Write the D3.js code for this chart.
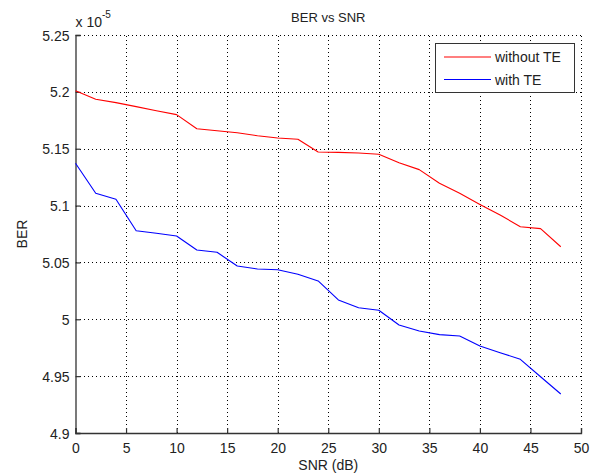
<!DOCTYPE html>
<html>
<head>
<meta charset="utf-8">
<script src="https://cdn.jsdelivr.net/npm/d3@7"></script>
<style>
  html, body { margin: 0; padding: 0; background: #fff; }
  svg { display: block; font-family: "Liberation Sans", Arial, sans-serif; }
</style>
</head>
<body>
<svg id="chart" width="597" height="475"></svg>
<script>
// SNR sweep (dB)
const snr = [0, 2, 4, 6, 8, 10, 12, 14, 16, 18, 20, 22, 24, 26, 28, 30, 32, 34, 36, 38, 40, 42, 44, 46, 48];
// BER values in units of 1e-5
const berWithoutTE = [5.201, 5.1935, 5.1905, 5.187, 5.1834, 5.180, 5.1676, 5.1658, 5.164, 5.1614, 5.1594, 5.1583,
  5.1471, 5.1468, 5.1462, 5.1451, 5.1377, 5.1316, 5.1196, 5.1108, 5.101, 5.0917, 5.0814, 5.0797, 5.0638];
const berWithTE = [5.1372, 5.1108, 5.1055, 5.0779, 5.0756, 5.0732, 5.0609, 5.0589, 5.0469, 5.0442, 5.0436, 5.0396,
  5.0337, 5.017, 5.0102, 5.0079, 4.995, 4.9897, 4.9865, 4.9853, 4.9765, 4.9706, 4.9648, 4.9495, 4.9343];
const xTicks = [0, 5, 10, 15, 20, 25, 30, 35, 40, 45, 50];
const yTicks = [4.9, 4.95, 5, 5.05, 5.1, 5.15, 5.2, 5.25];
const yTickLabels = ["4.9", "4.95", "5", "5.05", "5.1", "5.15", "5.2", "5.25"];
const seriesNames = ["without TE", "with TE"];
const seriesColors = ["#ff0000", "#0000ff"];

const svg = d3.select("#chart");
const plotLeft = 75.5, plotRight = 581, plotTop = 35, plotBottom = 433;

const x = d3.scaleLinear().domain([0, 50]).range([plotLeft, plotRight]);
const y = d3.scaleLinear().domain([4.9, 5.25]).range([plotBottom, plotTop]);

// dotted grid
const grid = svg.append("g").attr("stroke", "#000").attr("stroke-width", 1)
  .attr("stroke-dasharray", "1,3").attr("shape-rendering", "crispEdges");
grid.selectAll("line.gx").data(xTicks.slice(1)).join("line")
  .attr("x1", d => Math.round(x(d)) + 0.5).attr("x2", d => Math.round(x(d)) + 0.5)
  .attr("y1", plotBottom).attr("y2", plotTop);
grid.selectAll("line.gy").data(yTicks.slice(1)).join("line")
  .attr("y1", d => Math.round(y(d)) + 0.5).attr("y2", d => Math.round(y(d)) + 0.5)
  .attr("x1", plotLeft).attr("x2", plotRight);

// axes with inward ticks
const xAxis = d3.axisBottom(x).tickValues(xTicks).tickSize(-5).tickPadding(10).tickFormat(d3.format("d"));
const yAxis = d3.axisLeft(y).tickValues(yTicks).tickSize(-5).tickPadding(6)
  .tickFormat((d, i) => yTickLabels[i]);

const gx = svg.append("g").attr("transform", `translate(0,${plotBottom})`).call(xAxis);
const gy = svg.append("g").attr("transform", `translate(${plotLeft},0)`).call(yAxis);
[gx, gy].forEach(g => {
  g.select(".domain").attr("stroke", "#333").attr("stroke-width", 1.3);
  g.selectAll(".tick line").attr("stroke", "#333").attr("stroke-width", 1.2);
  g.selectAll(".tick text").attr("fill", "#222").attr("font-size", 14)
    .attr("font-family", "'Liberation Sans', Arial, sans-serif");
});
gy.selectAll(".tick text").attr("dy", "0.36em");

// series lines
const line = d3.line().x((d, i) => x(snr[i])).y(d => y(d));
[berWithoutTE, berWithTE].forEach((vals, k) => {
  svg.append("path").datum(vals).attr("d", line)
    .attr("fill", "none").attr("stroke", seriesColors[k]).attr("stroke-width", 1.1)
    .attr("stroke-linejoin", "round");
});

// exponent multiplier
const mult = svg.append("text").attr("x", plotLeft).attr("y", 27).attr("font-size", 14).attr("fill", "#222");
mult.append("tspan").text("x 10");
mult.append("tspan").attr("dy", -9).attr("font-size", 10).text("-5");

// title and axis labels
svg.append("text").attr("x", (plotLeft + plotRight) / 2).attr("y", 22).attr("text-anchor", "middle")
  .attr("font-size", 13).attr("fill", "#222").text("BER vs SNR");
svg.append("text").attr("x", (plotLeft + plotRight) / 2).attr("y", 470).attr("text-anchor", "middle")
  .attr("font-size", 14).attr("fill", "#222").text("SNR (dB)");
svg.append("text").attr("transform", `translate(27,234) rotate(-90)`).attr("text-anchor", "middle")
  .attr("font-size", 14).attr("fill", "#222").text("BER");

// legend
const lg = svg.append("g");
lg.append("rect").attr("x", 435.5).attr("y", 43.5).attr("width", 139).attr("height", 49)
  .attr("fill", "#fff").attr("stroke", "#333").attr("stroke-width", 1);
seriesNames.forEach((name, k) => {
  const yy = 57 + k * 22.5;
  lg.append("line").attr("x1", 444).attr("x2", 491).attr("y1", yy).attr("y2", yy)
    .attr("stroke", seriesColors[k]).attr("stroke-width", 1.1);
  lg.append("text").attr("x", 495).attr("y", yy).attr("dy", "0.36em")
    .attr("font-size", 14).attr("fill", "#222").text(name);
});
</script>
</body>
</html>
